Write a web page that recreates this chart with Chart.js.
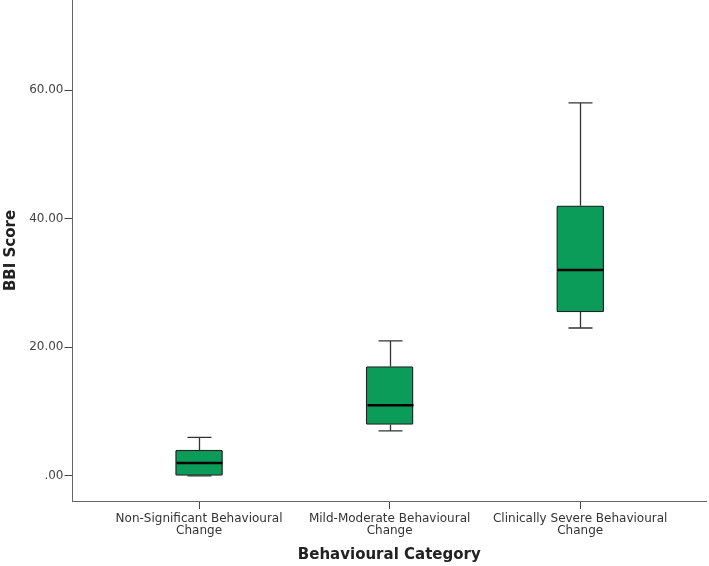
<!DOCTYPE html>
<html>
<head>
<meta charset="utf-8">
<script src="https://cdn.jsdelivr.net/npm/chart.js@4"></script>
<style>
  html, body { margin: 0; padding: 0; background: #fff; }
  #wrap { width: 709px; height: 566px; }
</style>
</head>
<body>
<div id="wrap"><canvas id="boxChart" width="709" height="566"></canvas></div>
<script>
// Box plot data
const categories = [
    ['Non-Significant Behavioural', 'Change'],
    ['Mild-Moderate Behavioural', 'Change'],
    ['Clinically Severe Behavioural', 'Change']
];
const catPos = [1, 2, 3];
const minVals = [0, 7, 23];
const q1Vals = [0, 8, 25.5];
const medians = [2, 11, 32];
const q3Vals = [4, 17, 42];
const maxVals = [6, 21, 58];
const yTicks = [0, 20, 40, 60];

const boxData = catPos.map((x, i) => ({ x: x, y: [q1Vals[i], q3Vals[i]] }));

// whiskers + median lines, drawn from the chart's own scales
const whiskerPlugin = {
    id: 'whiskers',
    afterDatasetsDraw(chart) {
        const ctx = chart.ctx;
        const xs = chart.scales.x, ys = chart.scales.y;
        ctx.save();
        catPos.forEach((x, i) => {
            const cx = Math.round(xs.getPixelForValue(x)) + 0.5;
            const yMin = ys.getPixelForValue(minVals[i]);
            const yMax = ys.getPixelForValue(maxVals[i]);
            const yQ1 = ys.getPixelForValue(q1Vals[i]);
            const yQ3 = ys.getPixelForValue(q3Vals[i]);
            const yMed = ys.getPixelForValue(medians[i]);
            ctx.strokeStyle = '#333';
            ctx.lineWidth = 1.3;
            ctx.beginPath();
            ctx.moveTo(cx, yQ3); ctx.lineTo(cx, yMax);
            ctx.moveTo(cx - 12, yMax); ctx.lineTo(cx + 12, yMax);
            if (yMin > yQ1 + 0.5) {
                ctx.moveTo(cx, yQ1); ctx.lineTo(cx, yMin);
            }
            ctx.moveTo(cx - 12, yMin); ctx.lineTo(cx + 12, yMin);
            ctx.stroke();
            // median
            ctx.strokeStyle = '#000';
            ctx.lineWidth = 2.5;
            ctx.beginPath();
            ctx.moveTo(cx - 23, yMed); ctx.lineTo(cx + 23, yMed);
            ctx.stroke();
        });
        ctx.restore();
    }
};

new Chart(document.getElementById('boxChart'), {
    type: 'bar',
    data: {
        datasets: [{
            label: 'BBI Score',
            data: boxData,
            backgroundColor: '#0c9c59',
            borderColor: '#222',
            borderWidth: 1.3,
            borderSkipped: false,
            borderRadius: 1.5,
            barThickness: 47
        }]
    },
    options: {
        responsive: false,
        animation: false,
        layout: { padding: { top: 0, right: 3, left: 0, bottom: 0 } },
        plugins: {
            legend: { display: false },
            tooltip: { enabled: false }
        },
        scales: {
            x: {
                type: 'linear',
                offset: false,
                min: 0.336,
                max: 3.66,
                afterBuildTicks: (axis) => { axis.ticks = catPos.map(v => ({ value: v })); },
                afterFit: (axis) => { axis.height = 65; axis.paddingLeft = 0; axis.paddingRight = 0; },
                grid: { offset: false, drawOnChartArea: false, drawTicks: true, tickLength: 8, color: '#444', lineWidth: 1 },
                border: { display: true, color: '#666', width: 1 },
                ticks: {
                    autoSkip: false,
                    maxRotation: 0,
                    padding: 4,
                    color: '#333',
                    font: { family: 'DejaVu Sans', size: 12, lineHeight: 1.0 },
                    callback: (v) => categories[catPos.indexOf(v)]
                },
                title: {
                    display: true,
                    text: 'Behavioural Category',
                    color: '#222',
                    font: { family: 'DejaVu Sans', size: 15, weight: 'bold' },
                    padding: { top: 6, bottom: 2 }
                }
            },
            y: {
                min: -3.9,
                max: 74,
                afterBuildTicks: (axis) => { axis.ticks = yTicks.map(v => ({ value: v })); },
                afterFit: (axis) => { axis.width = 72.5; axis.paddingTop = 0; axis.paddingBottom = 0; },
                grid: { drawOnChartArea: false, drawTicks: true, tickLength: 8, color: '#444', lineWidth: 1 },
                border: { display: true, color: '#666', width: 1 },
                ticks: {
                    padding: 1,
                    color: '#444',
                    font: { family: 'DejaVu Sans', size: 12 },
                    callback: (v) => v === 0 ? '.00' : v.toFixed(2)
                },
                title: {
                    display: true,
                    text: 'BBI Score',
                    color: '#222',
                    font: { family: 'DejaVu Sans', size: 15, weight: 'bold' },
                    padding: { top: 2, bottom: 0 }
                }
            }
        }
    },
    plugins: [whiskerPlugin]
});
</script>
</body>
</html>
